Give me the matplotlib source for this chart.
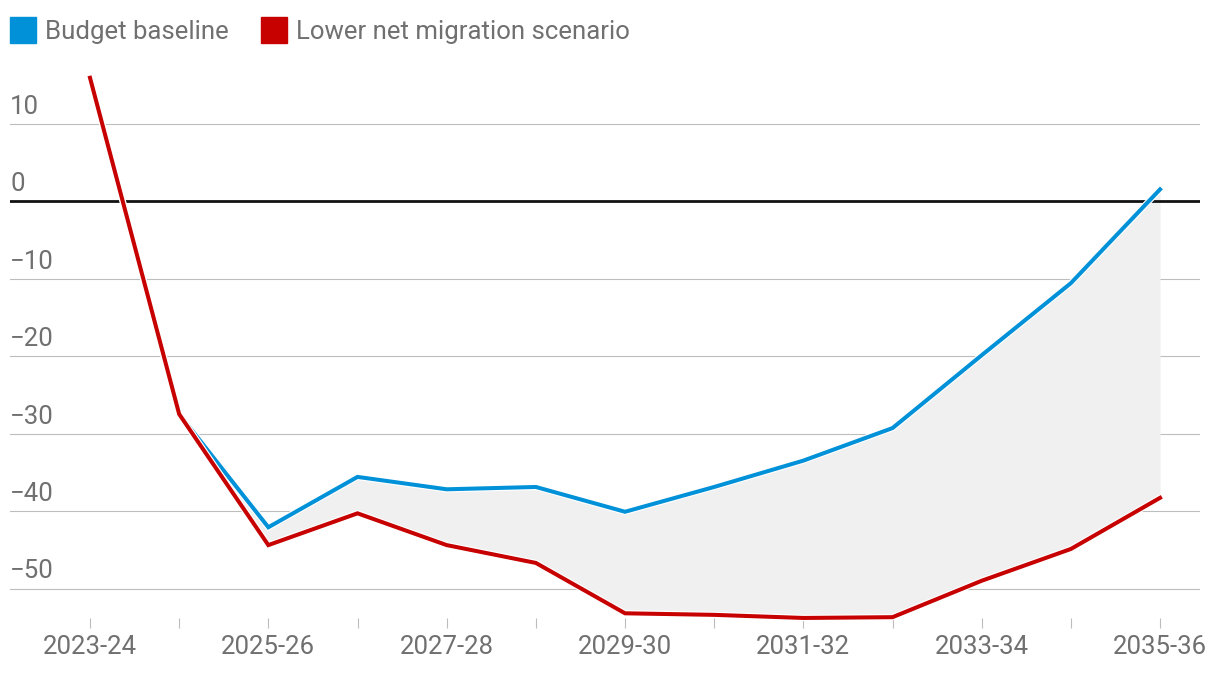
import numpy as np
import matplotlib.pyplot as plt
import matplotlib.patheffects as pe
import matplotlib.transforms as mtransforms
from matplotlib.patches import Rectangle

plt.rcParams['font.family'] = ['Roboto', 'DejaVu Sans']

# Data
years = ['2023-24', '2024-25', '2025-26', '2026-27', '2027-28', '2028-29', '2029-30',
         '2030-31', '2031-32', '2032-33', '2033-34', '2034-35', '2035-36']
baseline = [15.9, -27.5, -42.1, -35.6, -37.2, -36.9, -40.1,
            -36.9, -33.5, -29.3, -19.9, -10.6, 1.5]
lower_migration = [15.9, -27.5, -44.4, -40.3, -44.4, -46.7, -53.2,
                   -53.4, -53.8, -53.7, -49.0, -44.9, -38.3]
yticks = [10, 0, -10, -20, -30, -40, -50]

blue = '#0091d8'
red = '#c70000'
grey_text = '#707070'

W, H = 1220, 676
fig = plt.figure(figsize=(W/100, H/100), dpi=100)
# axes: 10px..1200px wide, 60px..618px tall
ax = fig.add_axes([10/W, 1 - 618/H, 1190/W, 558/H])

x = np.arange(len(years))
ax.fill_between(x, baseline, lower_migration, color='#f0f0f0', lw=0, zorder=1)
for v in yticks:
    if v == 0:
        ax.axhline(0, color='#121212', lw=2.0, zorder=2)
    else:
        ax.axhline(v, color='#bdbdbd', lw=0.8, zorder=0.5)

outline = [pe.Stroke(linewidth=4.6, foreground='white'), pe.Normal()]
ax.plot(x, baseline, color=blue, lw=2.9, zorder=3, path_effects=outline,
        solid_joinstyle='miter', clip_on=False)
ax.plot(x, lower_migration, color=red, lw=2.9, zorder=4, path_effects=outline,
        solid_joinstyle='miter', clip_on=False)

# px/unit = 7.75, zero at y=201
ax.set_ylim(-(618 - 201)/7.75, (201 - 60)/7.75)
ax.set_xlim((10 - 90)/89.17, (1200 - 90)/89.17)

for s in ax.spines.values():
    s.set_visible(False)
ax.set_yticks([])
ax.set_xticks(x)
ax.set_xticklabels([y if i % 2 == 0 else '' for i, y in enumerate(years)])
ax.tick_params(axis='x', length=7.2, width=0.8, color='#bdbdbd', pad=5,
               labelsize=18.5, labelcolor=grey_text)

# y labels sit above their gridlines
trans = mtransforms.blended_transform_factory(ax.transAxes, ax.transData)
trans = mtransforms.offset_copy(trans, fig=fig, x=0, y=10, units='dots')
for v in yticks:
    ax.text(0, v, f'{v}'.replace('-', '\u2212'), transform=trans, ha='left',
            va='baseline', fontsize=18.5, color=grey_text)

# legend
for x0, col, label in [(10, blue, 'Budget baseline'),
                       (261, red, 'Lower net migration scenario')]:
    fig.patches.append(Rectangle((x0/W, 1 - 43/H), 26/W, 26/H, color=col,
                                 transform=fig.transFigure, figure=fig))
    fig.text((x0 + 35)/W, 1 - 39/H, label, ha='left', va='baseline',
             fontsize=18.5, color=grey_text)

fig.savefig('out.png', dpi=100)
